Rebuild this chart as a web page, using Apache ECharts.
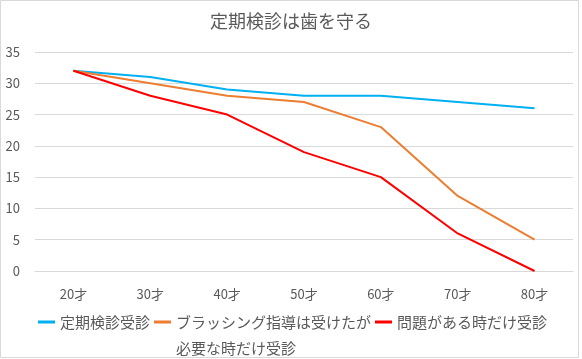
<!DOCTYPE html>
<html><head><meta charset="utf-8">
<script src="https://cdn.jsdelivr.net/npm/echarts@6/dist/echarts.min.js"></script>
<style>html,body{margin:0;padding:0;background:#fff}#c{width:582px;height:359px}</style>
</head><body><div id="c"></div>
<script>
const titleText = '定期検診は歯を守る';
const categories = ['20才','30才','40才','50才','60才','70才','80才'];
const seriesNames = ['定期検診受診','ブラッシング指導は受けたが\n必要な時だけ受診','問題がある時だけ受診'];
const regular = [32, 31, 29, 28, 28, 27, 26];
const brushing = [32, 30, 28, 27, 23, 12, 5];
const problemOnly = [32, 28, 25, 19, 15, 6, 0];
const colors = ['#00B0F0', '#ED7D31', '#FF0000'];
const values = [regular, brushing, problemOnly];

const font = '"Noto Sans CJK JP", "Noto Sans", sans-serif';
const chart = echarts.init(document.getElementById('c'));
chart.setOption({
  animation: false,
  textStyle: { fontFamily: font },
  title: {
    text: titleText, left: 'center', top: 7,
    textStyle: { fontSize: 18, fontWeight: 'normal', color: '#595959', fontFamily: font }
  },
  graphic: [{
    type: 'rect', silent: true,
    shape: { x: 0.5, y: 0.5, width: 578, height: 357 },
    style: { fill: 'none', stroke: '#d9d9d9', lineWidth: 1 }
  }],
  grid: { left: 35, right: 9, top: 52, bottom: 88, containLabel: false },
  legend: {
    left: 38, top: 283, padding: 0,
    icon: 'rect', itemWidth: 17, itemHeight: 3, itemGap: 4,
    textStyle: { fontSize: 15, color: '#595959', lineHeight: 26, fontFamily: font },
    formatter: name => (name.indexOf('\n') >= 0 ? ' \n' + name : name),
    data: seriesNames
  },
  xAxis: {
    type: 'category', data: categories, boundaryGap: true,
    axisLine: { lineStyle: { color: '#d9d9d9' } },
    axisTick: { show: false },
    axisLabel: { color: '#595959', fontSize: 13, margin: 17, fontFamily: font }
  },
  yAxis: {
    type: 'value', min: 0, max: 35, interval: 5,
    axisLine: { show: false }, axisTick: { show: false },
    axisLabel: { color: '#595959', fontSize: 13, margin: 15, fontFamily: font },
    splitLine: { lineStyle: { color: '#d9d9d9' } }
  },
  series: seriesNames.map((n, i) => ({
    name: n, type: 'line', data: values[i],
    symbol: 'none', lineStyle: { width: 2, color: colors[i] },
    itemStyle: { color: colors[i] }
  }))
});
</script></body></html>
